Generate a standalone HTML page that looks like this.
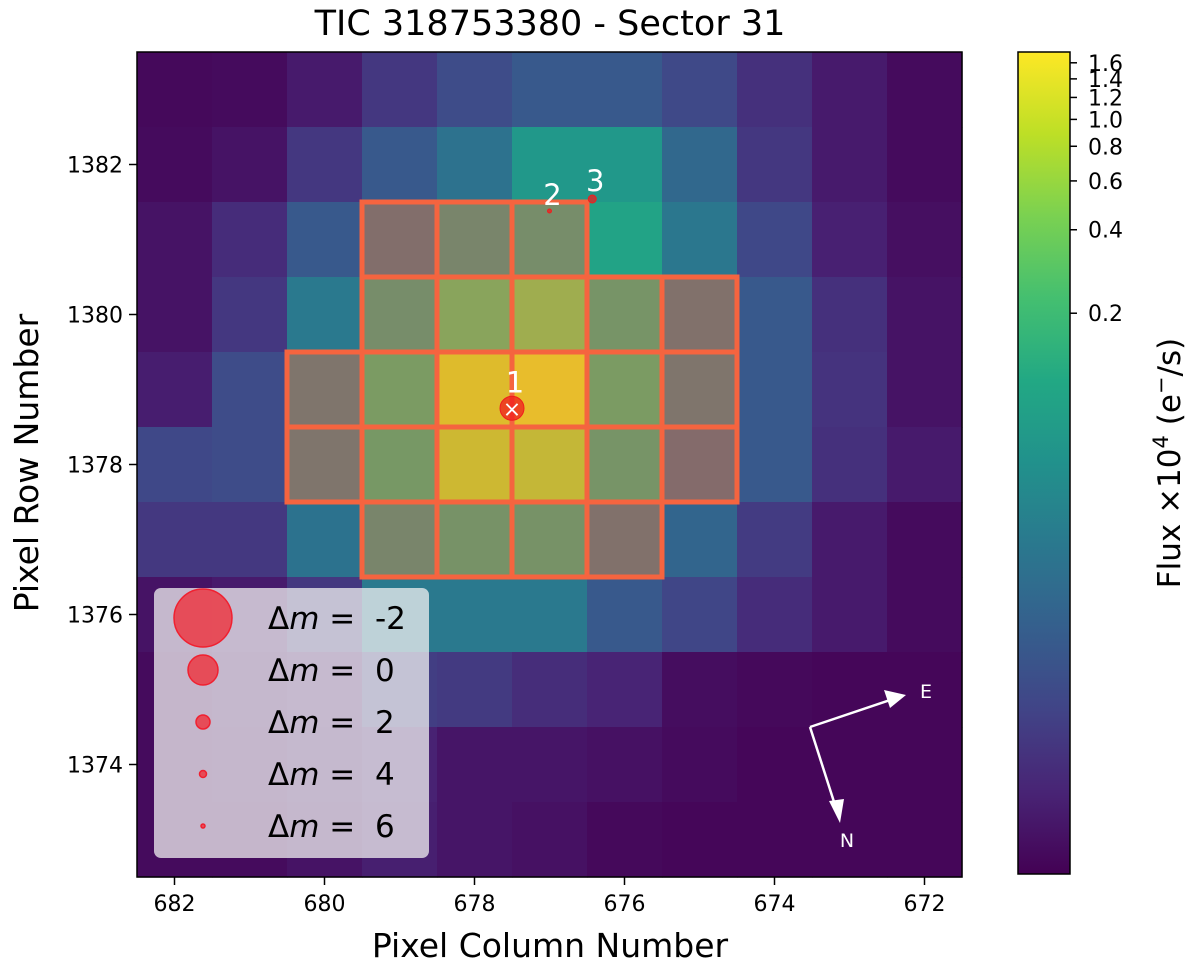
<!DOCTYPE html>
<html><head><meta charset="utf-8"><style>
body{margin:0;background:#fff}
svg text{font-family:"DejaVu Sans","Liberation Sans",sans-serif}
</style></head><body>
<svg id="c" width="1200" height="966" xmlns="http://www.w3.org/2000/svg"></svg>
<script>
const colTicks=[682,680,678,676,674,672];
const rowTicks=[1382,1380,1378,1376,1374];
const cbTicks=[0.2,0.4,0.6,0.8,1.0,1.2,1.4,1.6];
const flux=[
[0.0022,0.0023,0.0031,0.0056,0.009,0.0125,0.0125,0.0085,0.0049,0.0031,0.0023],
[0.0023,0.0027,0.0056,0.0125,0.0245,0.0707,0.0707,0.019,0.0056,0.0031,0.0023],
[0.0027,0.0045,0.0125,0.016,0.045,0.065,0.0995,0.028,0.0082,0.0035,0.0025],
[0.0027,0.0056,0.03,0.065,0.2,0.33,0.09,0.019,0.0125,0.0049,0.0027],
[0.0033,0.009,0.022,0.13,1.0,1.2,0.13,0.022,0.0125,0.0052,0.0027],
[0.0082,0.009,0.022,0.11,0.75,0.65,0.09,0.014,0.0125,0.0049,0.0031],
[0.0058,0.0058,0.025,0.045,0.085,0.085,0.019,0.0175,0.0062,0.0031,0.0023],
[0.0027,0.0031,0.0058,0.03,0.03,0.03,0.0125,0.0078,0.0045,0.0031,0.0023],
[0.0023,0.0027,0.0031,0.0065,0.006,0.0046,0.0038,0.0024,0.0022,0.0021,0.0021],
[0.0023,0.0025,0.0029,0.0036,0.0028,0.0028,0.0026,0.0023,0.0021,0.0021,0.0021],
[0.0023,0.0023,0.0027,0.0034,0.0028,0.0026,0.0022,0.0021,0.0021,0.0021,0.0021]];
const apertureRows=[1381,1381,1381,1380,1380,1380,1380,1380,1379,1379,1379,1379,1379,1379,1378,1378,1378,1378,1378,1378,1377,1377,1377,1377];
const apertureCols=[679,678,677,679,678,677,676,675,680,679,678,677,676,675,680,679,678,677,676,675,679,678,677,676];
const starCols=[677.5,677.0,676.43];
const starRows=[1378.75,1381.38,1381.54];
const starRadii=[12,2,4];
const starLabels=["1","2","3"];
const legendMags=["-2","0","2","4","6"];
const legendRadii=[29,15,7,3.5,2];

const NS="http://www.w3.org/2000/svg";
const svg=document.getElementById('c');
function mk(t,a,p){const e=document.createElementNS(NS,t);for(const k in a)e.setAttribute(k,a[k]);(p||svg).appendChild(e);return e;}
const L=137,T=52,U=75,N=11;
const xS=c=>L+(682.5-c)*U;
const yS=r=>T+(1383.5-r)*U;
const vmin=0.0019,vmax=1.75;
const lg=Math.log10;
const tOf=v=>Math.max(0,Math.min(1,(lg(v)-lg(vmin))/(lg(vmax)-lg(vmin))));
const vir=[[68,1,84],[72,36,117],[65,68,135],[53,95,141],[42,120,142],[33,145,140],[34,168,132],[68,191,112],[122,209,81],[189,223,38],[253,231,37]];
function cmap(t){const f=t*10,i=Math.min(9,Math.floor(f)),r=f-i;const a=vir[i],b=vir[i+1];return `rgb(${a.map((x,k)=>Math.round(x+(b[k]-x)*r)).join(',')})`;}
const cbY=v=>874-tOf(v)*822;

const ti=mk('text',{x:550,y:35,'font-size':35,'text-anchor':'middle'});ti.textContent='TIC 318753380 - Sector 31';



const hm=mk('g',{});


for(let i=0;i<N;i++)for(let j=0;j<N;j++){
 const r=mk('rect',{x:xS(682-j)-U/2,y:yS(1383-i)-U/2,width:U+0.6,height:U+0.6,fill:cmap(tOf(flux[i][j]))},hm);
 
 
}
const ap=mk('g',{});


for(let k=0;k<apertureRows.length;k++){
 const r=mk('rect',{x:xS(apertureCols[k])-U/2,y:yS(apertureRows[k])-U/2,width:U,height:U,fill:'rgba(255,130,55,0.39)',stroke:'#f5643f','stroke-width':5},ap);
 
 
}
for(let k=0;k<starCols.length;k++){
 const x=xS(starCols[k]),y=yS(starRows[k]);
 const c=mk('circle',{cx:x,cy:y,r:starRadii[k],fill:'rgba(240,30,30,0.75)',stroke:'#f01e1e','stroke-width':1});
 
 
 const t=mk('text',{x:x+3,y:y-starRadii[k]-4,'font-size':29,fill:'#fff','text-anchor':'middle'});t.textContent=starLabels[k];
 
 
}
{const x=xS(starCols[0]),y=yS(starRows[0]);
 const tx=mk('text',{x:x,y:y+8,'font-size':22,fill:'#fff','text-anchor':'middle'});tx.textContent='×';
 
 }

const lgG=mk('g',{});


mk('rect',{x:154,y:588,width:275,height:270,rx:7,fill:'rgba(240,240,240,0.75)'},lgG);
for(let k=0;k<legendMags.length;k++){
 const y=618+k*52;
 const c=mk('circle',{cx:203,cy:y,r:legendRadii[k],fill:'rgba(240,40,50,0.75)',stroke:'#f02030','stroke-width':1.5},lgG);
 
 
 const t=mk('text',{x:268,y:y+11,'font-size':31},lgG);
 t.innerHTML='Δ<tspan font-style="italic">m</tspan> =\u00a0\u00a0'+legendMags[k];
 
 
}
const cp=mk('g',{stroke:'#fff','stroke-width':2.5,fill:'#fff'});


mk('line',{x1:810,y1:727,x2:890,y2:700},cp);
mk('polygon',{points:'906,695 884,690 890,708',stroke:'none'},cp);
mk('line',{x1:810,y1:727,x2:835,y2:805},cp);
mk('polygon',{points:'840,823 829,801 844,799',stroke:'none'},cp);
const eT=mk('text',{x:926,y:698,'font-size':19,fill:'#fff','text-anchor':'middle'});eT.textContent='E';

const nT=mk('text',{x:847,y:847,'font-size':19,fill:'#fff','text-anchor':'middle'});nT.textContent='N';


const fr=mk('rect',{x:L,y:T,width:N*U,height:N*U,fill:'none',stroke:'#000','stroke-width':1.5});

colTicks.forEach(c=>{const x=xS(c);mk('line',{x1:x,y1:T+N*U,x2:x,y2:T+N*U+8,stroke:'#000','stroke-width':1.5});
 const t=mk('text',{x:x,y:T+N*U+34,'font-size':22,'text-anchor':'middle'});t.textContent=c;
 });
rowTicks.forEach(r=>{const y=yS(r);mk('line',{x1:L-8,y1:y,x2:L,y2:y,stroke:'#000','stroke-width':1.5});
 const t=mk('text',{x:L-14,y:y+8,'font-size':22,'text-anchor':'end'});t.textContent=r;
 });
const xl=mk('text',{x:550,y:957,'font-size':33,'text-anchor':'middle'});xl.textContent='Pixel Column Number';

const yl=mk('text',{x:0,y:0,'font-size':33,'text-anchor':'middle',transform:'translate(38,463) rotate(-90)'});yl.textContent='Pixel Row Number';


const defs=mk('defs',{});const gr=mk('linearGradient',{id:'g',x1:0,y1:1,x2:0,y2:0},defs);
for(let k=0;k<=20;k++)mk('stop',{offset:k/20,'stop-color':cmap(k/20)},gr);
const cb=mk('rect',{x:1018,y:52,width:52,height:822,fill:'url(#g)',stroke:'#000','stroke-width':1.5});

cbTicks.forEach(v=>{const y=cbY(v);mk('line',{x1:1070,y1:y,x2:1077,y2:y,stroke:'#000','stroke-width':1.5});
 const t=mk('text',{x:1088,y:y+8,'font-size':22});t.textContent=v.toFixed(1);
 });
const cl=mk('text',{x:0,y:0,'font-size':31,'text-anchor':'middle',transform:'translate(1180,463) rotate(-90)'});
cl.innerHTML='Flux ×10<tspan dy="-12" font-size="21">4</tspan><tspan dy="12"> (e</tspan><tspan dy="-12" font-size="21">−</tspan><tspan dy="12">/s)</tspan>';

</script>
</body></html>
